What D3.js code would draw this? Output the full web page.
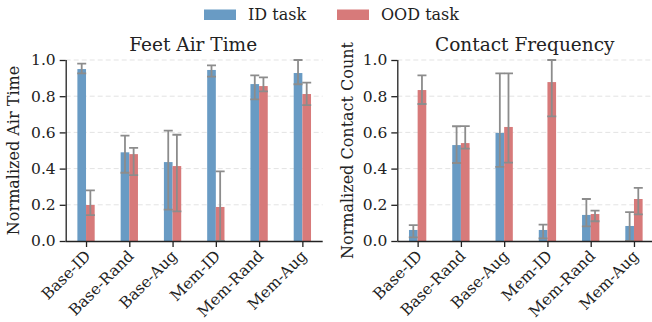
<!DOCTYPE html>
<html>
<head>
<meta charset="utf-8">
<script src="https://cdn.jsdelivr.net/npm/d3@7"></script>
<style>
  body { margin: 0; background: #fff; }
  svg, svg text { font-family: "DejaVu Serif", serif; }
  .tick text { font-size: 15.5px; fill: #222; }
  .grid line { stroke: #e3e3e3; stroke-dasharray: 5,3; }
</style>
</head>
<body>
<div id="chart"></div>
<script>
const methods = ['Base-ID', 'Base-Rand', 'Base-Aug', 'Mem-ID', 'Mem-Rand', 'Mem-Aug'];
const seriesNames = ['ID task', 'OOD task'];
const yTicks = [0, 0.2, 0.4, 0.6, 0.8, 1.0];

// Feet Air Time
const airId    = [0.950, 0.490, 0.436, 0.945, 0.867, 0.928];
const airIdLo  = [0.926, 0.377, 0.173, 0.908, 0.783, 0.866];
const airIdHi  = [0.980, 0.582, 0.610, 0.970, 0.915, 1.000];
const airOod   = [0.199, 0.480, 0.414, 0.188, 0.856, 0.812];
const airOodLo = [0.143, 0.364, 0.164, 0.000, 0.827, 0.751];
const airOodHi = [0.280, 0.514, 0.587, 0.385, 0.904, 0.875];

// Contact Frequency
const conId    = [0.061, 0.530, 0.597, 0.061, 0.144, 0.083];
const conIdLo  = [0.020, 0.431, 0.410, 0.015, 0.081, 0.000];
const conIdHi  = [0.088, 0.634, 0.926, 0.090, 0.232, 0.159];
const conOod   = [0.834, 0.541, 0.630, 0.878, 0.149, 0.232];
const conOodLo = [0.757, 0.510, 0.433, 0.689, 0.109, 0.147];
const conOodHi = [0.915, 0.635, 0.926, 1.000, 0.168, 0.294];

const COLORS = ['#699bc4', '#d77a7a'];
const ERRCOLOR = '#8c8c8c';
const BARW = 0.2;

const W = 652, H = 322;
const svg = d3.select('#chart').append('svg').attr('width', W).attr('height', H);

const panels = [
  { title: 'Feet Air Time', ylabel: 'Normalized Air Time', x0: 65.7, ylabX: 19,
    series: [[airId, airIdLo, airIdHi], [airOod, airOodLo, airOodHi]] },
  { title: 'Contact Frequency', ylabel: 'Normalized Contact Count', x0: 397.3, ylabX: 353,
    series: [[conId, conIdLo, conIdHi], [conOod, conOodLo, conOodHi]] },
];

const plotTop = 60, plotBottom = 241, pw = 257;

panels.forEach((p, pi) => {
  const x = d3.scaleLinear().domain([-0.47, 5.47]).range([p.x0, p.x0 + pw]);
  const y = d3.scaleLinear().domain([0, 1]).range([plotBottom, plotTop]);
  const g = svg.append('g');

  // grid
  g.append('g').attr('class', 'grid')
    .selectAll('line').data(yTicks.slice(1)).join('line')
    .attr('x1', p.x0).attr('x2', p.x0 + pw)
    .attr('y1', d => y(d)).attr('y2', d => y(d));

  const clipId = 'clip' + pi;
  svg.append('clipPath').attr('id', clipId).append('rect')
    .attr('x', p.x0).attr('y', plotTop - 2).attr('width', pw).attr('height', plotBottom - plotTop + 2);

  const plot = g.append('g').attr('clip-path', `url(#${clipId})`);

  p.series.forEach(([vals, lo, hi], si) => {
    const off = si === 0 ? -BARW / 2 : BARW / 2;
    plot.append('g').selectAll('rect').data(vals).join('rect')
      .attr('x', (d, i) => x(i + off - BARW / 2))
      .attr('width', x(BARW) - x(0))
      .attr('y', d => y(d))
      .attr('height', d => y(0) - y(d))
      .attr('fill', COLORS[si]);
  });

  // error bars drawn on top
  p.series.forEach(([vals, lo, hi], si) => {
    const off = si === 0 ? -BARW / 2 : BARW / 2;
    const eg = plot.append('g').attr('stroke', ERRCOLOR).attr('stroke-width', 1.8);
    vals.forEach((v, i) => {
      const cx = x(i + off);
      eg.append('line').attr('x1', cx).attr('x2', cx).attr('y1', y(lo[i])).attr('y2', y(hi[i]));
      [lo[i], hi[i]].forEach(e => {
        eg.append('line').attr('x1', cx - 4.5).attr('x2', cx + 4.5).attr('y1', y(e)).attr('y2', y(e));
      });
    });
  });

  // axes
  const ya = g.append('g').attr('transform', `translate(${p.x0},0)`)
    .call(d3.axisLeft(y).tickValues(yTicks).tickFormat(d3.format('.1f')).tickSize(6).tickPadding(4));
  const xa = g.append('g').attr('transform', `translate(0,${plotBottom})`)
    .call(d3.axisBottom(x).tickValues(d3.range(methods.length)).tickFormat(i => methods[i]).tickSize(6));
  [ya, xa].forEach(a => {
    a.attr('font-family', null);
    a.select('.domain').attr('stroke', '#222').attr('stroke-width', 1.3);
    a.selectAll('.tick line').attr('stroke', '#222').attr('stroke-width', 1.3);
  });
  xa.select('.domain').attr('d', `M${p.x0},0.5H${p.x0 + pw}`);
  ya.select('.domain').attr('d', `M0.5,${plotTop}V${plotBottom}`);
  xa.selectAll('.tick text')
    .attr('text-anchor', 'end')
    .attr('dy', null).attr('y', 0)
    .attr('transform', 'translate(5,16) rotate(-45)');

  // title and y label
  g.append('text').attr('x', p.x0 + pw / 2 - 1).attr('y', 51)
    .attr('text-anchor', 'middle').attr('font-size', 18.5).attr('fill', '#222').text(p.title);
  g.append('text').attr('transform', `translate(${p.ylabX},${(plotTop + plotBottom) / 2}) rotate(-90)`)
    .attr('text-anchor', 'middle').attr('font-size', 16).attr('fill', '#222').text(p.ylabel);
});

// legend
const legX = [204, 337];
const leg = svg.append('g');
seriesNames.forEach((s, i) => {
  leg.append('rect').attr('x', legX[i]).attr('y', 9.5).attr('width', 32).attr('height', 10.5).attr('fill', COLORS[i]);
  leg.append('text').attr('x', legX[i] + 44).attr('y', 20).attr('font-size', 16).attr('fill', '#222').text(s);
});
</script>
</body>
</html>
